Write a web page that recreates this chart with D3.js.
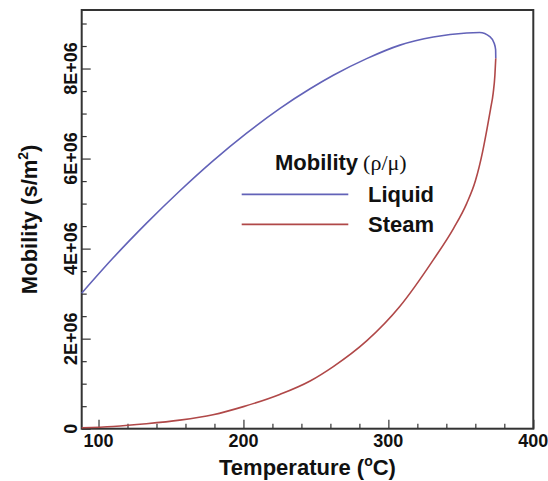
<!DOCTYPE html>
<html>
<head>
<meta charset="utf-8">
<script src="https://cdn.jsdelivr.net/npm/d3@7"></script>
<style>
  body { margin: 0; background: #fff; }
  text { font-family: "Liberation Sans", Arial, sans-serif; }
</style>
</head>
<body>
<div id="chart"></div>
<script>
// Saturated water, mobility rho/mu (s/m^2)
const liquidTemp = [88.4, 110, 133, 156, 179, 202, 225, 246, 262, 285, 308, 331, 354, 363, 370, 373, 374, 374.1];
const liquidMob  = [3.01e6, 3.79e6, 4.56e6, 5.28e6, 5.95e6, 6.56e6, 7.11e6, 7.55e6, 7.85e6, 8.22e6, 8.52e6, 8.70e6, 8.79e6, 8.80e6, 8.71e6, 8.56e6, 8.42e6, 8.23e6];

const steamTemp = [88.4, 110, 133, 156, 179, 200, 225, 246, 262, 285, 308, 331, 345, 354, 360, 365, 368, 370.5, 372.3, 373.5, 374.1];
const steamMob  = [0.02e6, 0.05e6, 0.11e6, 0.19e6, 0.31e6, 0.49e6, 0.76e6, 1.06e6, 1.38e6, 1.95e6, 2.72e6, 3.75e6, 4.45e6, 5.00e6, 5.50e6, 6.15e6, 6.65e6, 7.10e6, 7.45e6, 7.85e6, 8.23e6];

const xMajor = [100, 200, 300, 400];
const yMajor = [0, 2e6, 4e6, 6e6, 8e6];
const yLabels = ['0', '2E+06', '4E+06', '6E+06', '8E+06'];

const W = 548, H = 481;
const M = { left: 81.7, right: W - 533.3, top: 10, bottom: H - 428.7 };

const x = d3.scaleLinear().domain([88.4, 400]).range([M.left, W - M.right]);
const y = d3.scaleLinear().domain([0, 9.3e6]).range([H - M.bottom, M.top]);

const svg = d3.select('#chart').append('svg')
  .attr('width', W).attr('height', H);

// minor ticks (inward)
const xMinor = d3.range(100, 400, 20).filter(v => v % 100 !== 0);
const yMinor = d3.range(0, 9.3e6, 5e5).filter(v => v % 2e6 !== 0);

const axisCol = '#333';

// x axis
const xAxis = svg.append('g').attr('transform', `translate(0,${H - M.bottom})`);
xAxis.call(d3.axisBottom(x).tickValues(xMinor).tickSize(-5).tickFormat(''));
xAxis.append('g').call(d3.axisBottom(x).tickValues(xMajor).tickSize(-9).tickFormat(''));
xAxis.selectAll('.domain').remove();
xAxis.selectAll('line').attr('stroke', axisCol).attr('stroke-width', 1.2);

svg.append('g').selectAll('text')
  .data(xMajor).enter().append('text')
  .attr('x', d => x(d)).attr('y', 447)
  .attr('text-anchor', 'middle')
  .style('font-size', '18px').style('font-weight', 'bold').attr('fill', '#111')
  .text(d => d);

// y axis
const yAxis = svg.append('g').attr('transform', `translate(${M.left},0)`);
yAxis.call(d3.axisLeft(y).tickValues(yMinor).tickSize(-5).tickFormat(''));
yAxis.append('g').call(d3.axisLeft(y).tickValues(yMajor).tickSize(-9).tickFormat(''));
yAxis.selectAll('.domain').remove();
yAxis.selectAll('line').attr('stroke', axisCol).attr('stroke-width', 1.2);

svg.append('g').selectAll('text')
  .data(yMajor).enter().append('text')
  .attr('transform', d => `translate(77,${y(d)}) rotate(-90)`)
  .attr('text-anchor', 'middle')
  .style('font-size', '18px').style('font-weight', 'bold').attr('fill', '#111')
  .text((d, i) => yLabels[i]);

// frame
svg.append('rect')
  .attr('x', M.left).attr('y', M.top)
  .attr('width', W - M.left - M.right).attr('height', H - M.top - M.bottom)
  .attr('fill', 'none').attr('stroke', axisCol).attr('stroke-width', 2);

// curves
const line = d3.line()
  .x(d => x(d[0])).y(d => y(d[1]))
  .curve(d3.curveMonotoneX);

const liquid = liquidTemp.map((t, i) => [t, liquidMob[i]]);
const steam = steamTemp.map((t, i) => [t, steamMob[i]]);

svg.append('path').datum(steam)
  .attr('d', line).attr('fill', 'none')
  .attr('stroke', '#b04848').attr('stroke-width', 1.6);
svg.append('path').datum(liquid)
  .attr('d', line).attr('fill', 'none')
  .attr('stroke', '#6262b8').attr('stroke-width', 1.6);

// legend
const leg = svg.append('g');
const title = leg.append('text').attr('x', 275).attr('y', 170).attr('fill', '#111');
title.append('tspan').style('font-size', '22px').style('font-weight', 'bold').text('Mobility');
title.append('tspan')
  .style('font-family', '"Liberation Serif", "DejaVu Serif", serif')
  .style('font-size', '22px').attr('dx', 5).text('(ρ/μ)');

const legendItems = [
  { name: 'Liquid', color: '#6262b8', ly: 194.3, ty: 201.7 },
  { name: 'Steam', color: '#b04848', ly: 224.3, ty: 231.5 }
];
legendItems.forEach(d => {
  leg.append('line')
    .attr('x1', 241.7).attr('x2', 348.3)
    .attr('y1', d.ly).attr('y2', d.ly)
    .attr('stroke', d.color).attr('stroke-width', 1.8);
  leg.append('text')
    .attr('x', 368).attr('y', d.ty).attr('fill', '#111')
    .style('font-size', '22px').style('font-weight', 'bold')
    .text(d.name);
});

// axis titles
const xt = svg.append('text')
  .attr('x', (M.left + W - M.right) / 2).attr('y', 475)
  .attr('text-anchor', 'middle').attr('fill', '#111')
  .style('font-size', '22px').style('font-weight', 'bold');
xt.append('tspan').text('Temperature (');
xt.append('tspan').style('font-size', '14px').attr('dy', -9).text('o');
xt.append('tspan').attr('dy', 9).text('C)');

const yt = svg.append('text')
  .attr('transform', `translate(37,${(M.top + H - M.bottom) / 2}) rotate(-90)`)
  .attr('text-anchor', 'middle').attr('fill', '#111')
  .style('font-size', '22px').style('font-weight', 'bold');
yt.append('tspan').text('Mobility (s/m');
yt.append('tspan').style('font-size', '14px').attr('dy', -9).text('2');
yt.append('tspan').attr('dy', 9).text(')');
</script>
</body>
</html>
